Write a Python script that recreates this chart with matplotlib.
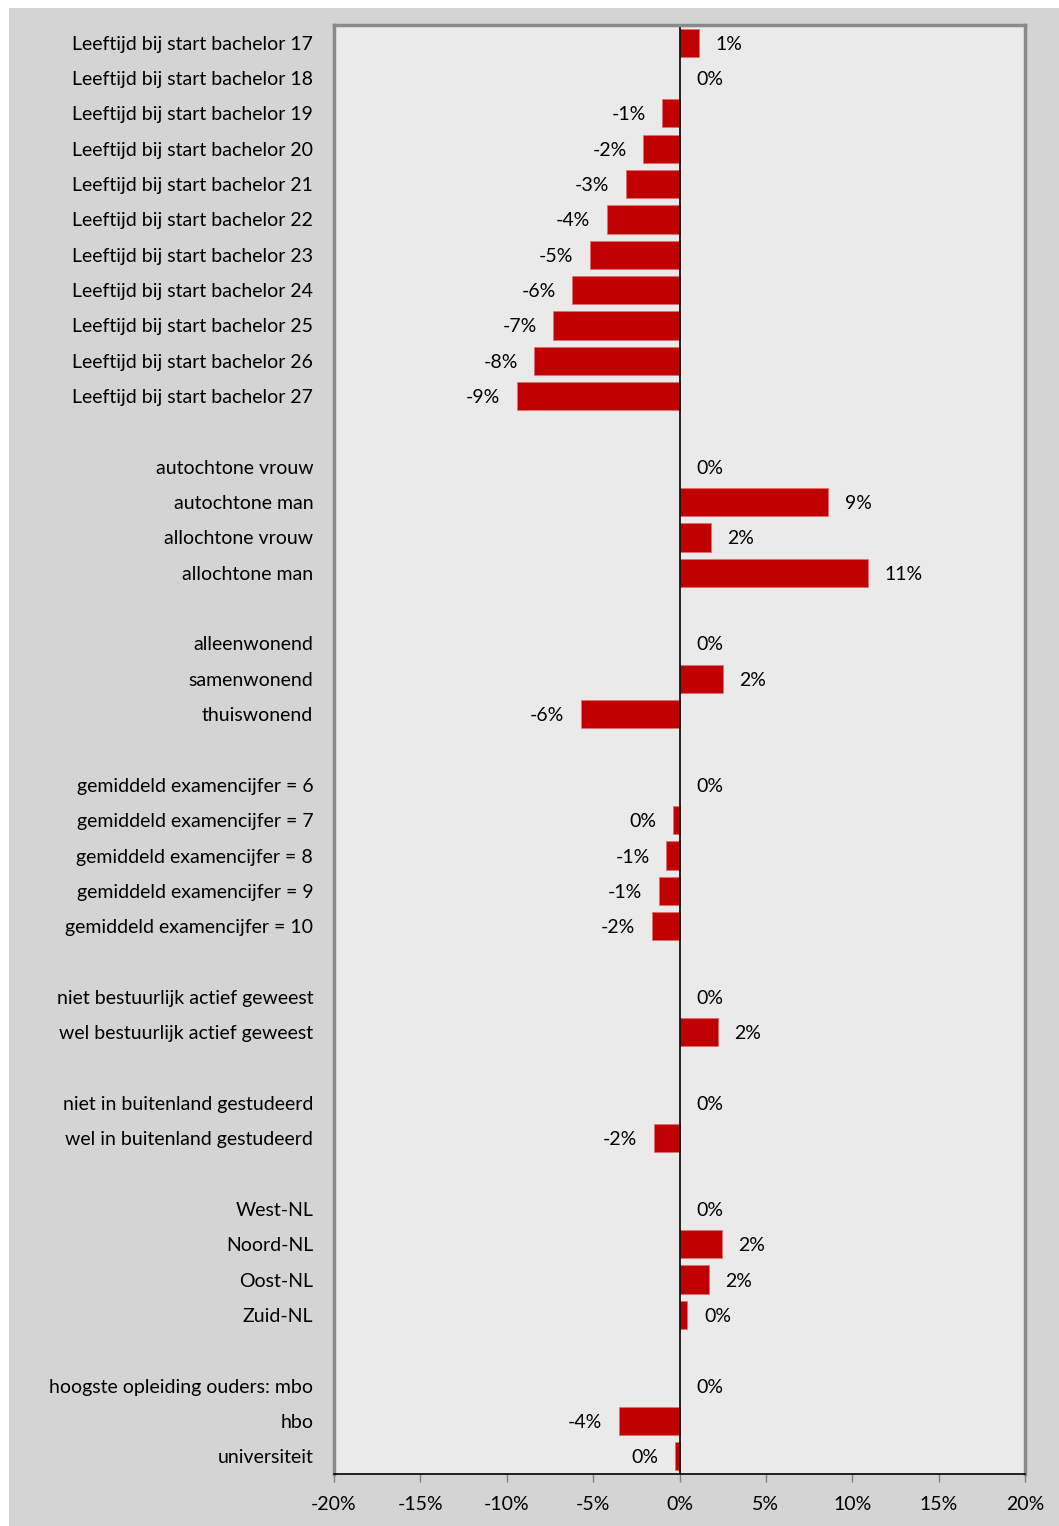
import matplotlib.pyplot as plt
from matplotlib.patches import Rectangle

plt.rcParams['font.family'] = ['Lato', 'DejaVu Sans']

labels = [
    "Leeftijd bij start bachelor 17", "Leeftijd bij start bachelor 18",
    "Leeftijd bij start bachelor 19", "Leeftijd bij start bachelor 20",
    "Leeftijd bij start bachelor 21", "Leeftijd bij start bachelor 22",
    "Leeftijd bij start bachelor 23", "Leeftijd bij start bachelor 24",
    "Leeftijd bij start bachelor 25", "Leeftijd bij start bachelor 26",
    "Leeftijd bij start bachelor 27", "",
    "autochtone vrouw", "autochtone man", "allochtone vrouw", "allochtone man", "",
    "alleenwonend", "samenwonend", "thuiswonend", "",
    "gemiddeld examencijfer = 6", "gemiddeld examencijfer = 7",
    "gemiddeld examencijfer = 8", "gemiddeld examencijfer = 9",
    "gemiddeld examencijfer = 10", "",
    "niet bestuurlijk actief geweest", "wel bestuurlijk actief geweest", "",
    "niet in buitenland gestudeerd", "wel in buitenland gestudeerd", "",
    "West-NL", "Noord-NL", "Oost-NL", "Zuid-NL", "",
    "hoogste opleiding ouders: mbo", "hbo", "universiteit",
]

# None = lege regel tussen de groepen
waarden = [
    1.1, 0.0, -1.0, -2.1, -3.1, -4.2, -5.2, -6.2, -7.3, -8.4, -9.4, None,
    0.0, 8.6, 1.8, 10.9, None,
    0.0, 2.5, -5.7, None,
    0.0, -0.35, -0.77, -1.2, -1.6, None,
    0.0, 2.2, None,
    0.0, -1.5, None,
    0.0, 2.45, 1.7, 0.46, None,
    0.0, -3.5, -0.25,
]

xticks = [-20, -15, -10, -5, 0, 5, 10, 15, 20]

fig = plt.figure(figsize=(10.59, 15.26), dpi=100)
fig.patch.set_facecolor('white')
fig.patches.append(Rectangle((9 / 1059, 0), 1 - 9 / 1059, 1 - 8 / 1526,
                             transform=fig.transFigure, facecolor='#D4D4D4',
                             edgecolor='none', zorder=-10))

ax = fig.add_axes([334 / 1059, 1 - 1474 / 1526, (1025 - 334) / 1059, (1474 - 25) / 1526])
ax.set_facecolor('#EAEAEA')

n = len(labels)
for i, v in enumerate(waarden):
    if v is None:
        continue
    if v != 0:
        ax.barh(i, v, height=0.8, color='#C00000', edgecolor='#E07070', linewidth=0.6)
    tekst = "%d%%" % round(v)
    if tekst == "-0%":
        tekst = "0%"
    if v >= 0:
        ax.annotate(tekst, (v, i), xytext=(12, 0), textcoords='offset points',
                    ha='left', va='center_baseline', fontsize=14)
    else:
        ax.annotate(tekst, (v, i), xytext=(-12, 0), textcoords='offset points',
                    ha='right', va='center_baseline', fontsize=14)

ax.set_ylim(n - 0.5, -0.5)
ax.set_xlim(-20, 20)
ax.set_yticks(range(n))
ax.set_yticklabels(labels, fontsize=14)
ax.tick_params(axis='y', length=0, pad=15)
ax.set_xticks(xticks)
ax.set_xticklabels(["%d%%" % t for t in xticks], fontsize=14)
ax.tick_params(axis='x', direction='out', length=6, width=1, color='#808080', pad=10)

ax.axvline(0, color='black', linewidth=1.2)
for s in ['top', 'left', 'right']:
    ax.spines[s].set_color('#8A8A8A')
    ax.spines[s].set_linewidth(2.5)
ax.spines['bottom'].set_color('black')
ax.spines['bottom'].set_linewidth(1.2)

plt.savefig("out.png", dpi=100)
